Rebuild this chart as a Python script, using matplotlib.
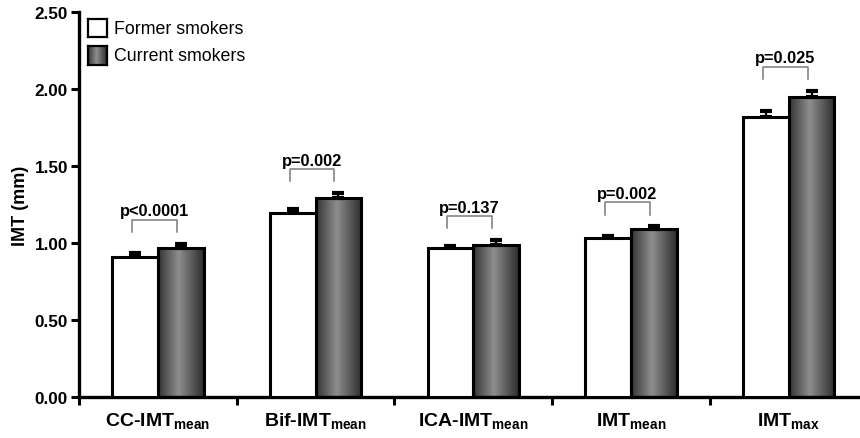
import numpy as np
import matplotlib
matplotlib.use("Agg")
import matplotlib.pyplot as plt
from matplotlib.colors import LinearSegmentedColormap
from matplotlib.patches import Rectangle

plt.rcParams['font.family'] = ['Liberation Sans', 'DejaVu Sans']
plt.rcParams['mathtext.fontset'] = 'custom'
plt.rcParams['mathtext.rm'] = 'Liberation Sans'
plt.rcParams['mathtext.bf'] = 'Liberation Sans:bold'

# ---- data ----
categories = ["CC-IMT$_{\\mathbf{mean}}$", "Bif-IMT$_{\\mathbf{mean}}$",
              "ICA-IMT$_{\\mathbf{mean}}$", "IMT$_{\\mathbf{mean}}$", "IMT$_{\\mathbf{max}}$"]
former_mean = [0.91, 1.195, 0.968, 1.03, 1.82]
former_err = [0.025, 0.025, 0.015, 0.015, 0.04]
current_mean = [0.97, 1.29, 0.99, 1.09, 1.945]
current_err = [0.025, 0.035, 0.03, 0.02, 0.045]
p_labels = ["p<0.0001", "p=0.002", "p=0.137", "p=0.002", "p=0.025"]
series_names = ["Former smokers", "Current smokers"]
yticks = [0.0, 0.5, 1.0, 1.5, 2.0, 2.5]

W, H = 860, 439
fig = plt.figure(figsize=(W / 100, H / 100), dpi=100)
ax = fig.add_axes([79 / W, 1 - 398 / H, (867.5 - 79) / W, (398 - 13) / H])

gray_cmap = LinearSegmentedColormap.from_list(
    "cyl", [(0.0, "#333333"), (0.45, "#8e8e8e"), (1.0, "#2c2c2c")])
grad = np.linspace(0, 1, 256).reshape(1, -1)

n = len(categories)
centers = np.arange(n) + 0.5
bw = 0.29
lw_edge = 2.2

b1 = ax.bar(centers - bw / 2, former_mean, bw, color="white", edgecolor="black",
            linewidth=lw_edge, zorder=3)
b2 = ax.bar(centers + bw / 2, current_mean, bw, color="none", edgecolor="black",
            linewidth=lw_edge, zorder=3)
for rect in b2:
    x0, y0 = rect.get_x(), rect.get_y()
    im = ax.imshow(grad, cmap=gray_cmap, aspect="auto", zorder=2,
                   extent=(x0, x0 + rect.get_width(), y0, y0 + rect.get_height()))
    clip = Rectangle((x0, y0), rect.get_width(), rect.get_height(),
                     transform=ax.transData, facecolor="none", edgecolor="none")
    ax.add_patch(clip)
    im.set_clip_path(clip)

ax.errorbar(centers - bw / 2, former_mean, yerr=[np.zeros(n), former_err], fmt="none",
            ecolor="black", elinewidth=1.6, capsize=4, capthick=3, zorder=2.5)
ax.errorbar(centers + bw / 2, current_mean, yerr=[np.zeros(n), current_err], fmt="none",
            ecolor="black", elinewidth=1.6, capsize=4, capthick=3, zorder=2.5)

# significance brackets
for i in range(n):
    top = max(former_mean[i] + former_err[i], current_mean[i] + current_err[i])
    yb = top + 0.075
    yt = yb + 0.078
    xl = centers[i] - 0.165
    xr = centers[i] + 0.12
    ax.plot([xl, xl, xr, xr], [yb, yt, yt, yb], color="#7a7a7a", lw=1.1, zorder=4)
    ax.text((xl + xr) / 2, yt + 0.012, p_labels[i], ha="center", va="bottom",
            fontsize=11.8, fontweight="bold")

ax.set_xlim(0, n)
ax.set_ylim(0, 2.5)
ax.set_yticks(yticks)
ax.set_yticklabels([f"{v:.2f}" for v in yticks], fontsize=12.3, fontweight="bold")
ax.set_xticks(centers)
ax.set_xticklabels(categories, fontsize=14, fontweight="bold")
ax.set_xticks(np.arange(n + 1), minor=True)
ax.tick_params(axis="x", which="major", length=0, pad=10)
ax.tick_params(axis="x", which="minor", length=6, width=2.2, direction="out")
ax.tick_params(axis="y", length=6, width=2.2, direction="out", pad=2)
for s in ["top", "right"]:
    ax.spines[s].set_visible(False)
for s in ["left", "bottom"]:
    ax.spines[s].set_linewidth(2.4)
ax.set_ylabel("IMT (mm)", fontsize=13, fontweight="bold", labelpad=4)

# legend drawn manually
sq = [(20, 38), (47, 66)]
for k, (yt_px, yb_px) in enumerate(sq):
    lax = fig.add_axes([88 / W, 1 - yb_px / H, 19 / W, (yb_px - yt_px) / H])
    if k == 0:
        lax.set_facecolor("white")
    else:
        lax.imshow(grad, cmap=gray_cmap, aspect="auto", extent=(0, 1, 0, 1))
    lax.set_xticks([])
    lax.set_yticks([])
    for s in lax.spines.values():
        s.set_linewidth(1.6)
    fig.text(114 / W, 1 - ((yt_px + yb_px) / 2) / H, series_names[k], fontsize=12.8,
             va="center", ha="left")

fig.savefig("out.png", dpi=100)
